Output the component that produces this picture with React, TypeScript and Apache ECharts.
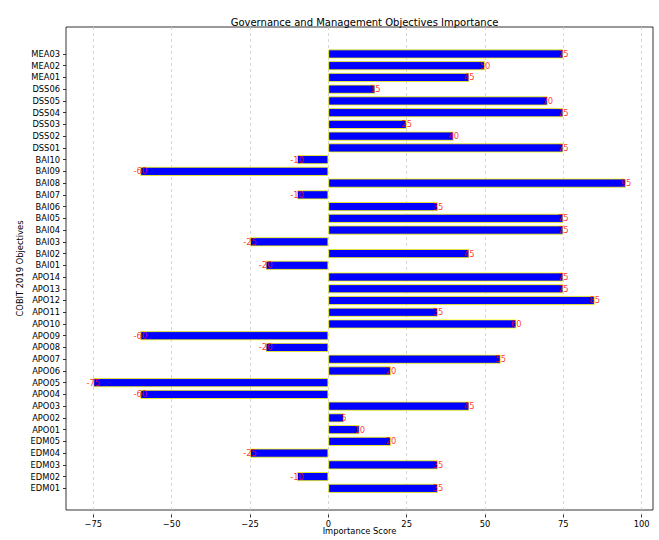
import React, { useEffect, useRef } from "react";
import * as echarts from "echarts";

const categories = [
  "EDM01", "EDM02", "EDM03", "EDM04", "EDM05",
  "APO01", "APO02", "APO03", "APO04", "APO05", "APO06", "APO07", "APO08", "APO09", "APO10", "APO11", "APO12", "APO13", "APO14",
  "BAI01", "BAI02", "BAI03", "BAI04", "BAI05", "BAI06", "BAI07", "BAI08", "BAI09", "BAI10",
  "DSS01", "DSS02", "DSS03", "DSS04", "DSS05", "DSS06",
  "MEA01", "MEA02", "MEA03",
];

const scores = [
  35, -10, 35, -25, 20,
  10, 5, 45, -60, -75, 20, 55, -20, -60, 60, 35, 85, 75, 75,
  -20, 45, -25, 75, 75, 35, -10, 95, -60, -10,
  75, 40, 25, 75, 70, 15,
  45, 50, 75,
];

const xTickMin = -75;
const xTickMax = 100;
const xTickStep = 25;

const FONT = "DejaVu Sans";

export default function App() {
  const ref = useRef<HTMLDivElement>(null);

  useEffect(() => {
    if (!ref.current) return;
    const chart = echarts.init(ref.current, undefined, { renderer: "svg" });

    // plot frame: x 66..653, y 27..514
    // data x range -83.7..103.6 ; ticks -75..100 at 93.3..641.7
    const frameLeft = 66;
    const tickLeft = 93.3;
    const frame = { left: frameLeft, right: 6, top: 27, bottom: 25.5 };
    const axisGrid = { left: tickLeft, right: 659 - 641.7, top: 27, bottom: 25.5 };
    const barGrid = { left: tickLeft, right: 659 - 641.7, top: 48.1, bottom: 45.8 };

    chart.setOption({
      animation: false,
      backgroundColor: "#ffffff",
      textStyle: { fontFamily: FONT },
      title: {
        text: "Governance and Management Objectives Importance",
        left: 359.5,
        textAlign: "center",
        top: 12,
        textStyle: { fontFamily: FONT, fontSize: 10, fontWeight: "normal", color: "#000" },
      },
      grid: [
        { ...frame, show: true, borderColor: "#000", borderWidth: 0.8, backgroundColor: "transparent" },
        { ...axisGrid },
        { ...barGrid },
      ],
      xAxis: [
        {
          gridIndex: 0,
          type: "value",
          min: 0,
          max: 1,
          axisLine: { show: false },
          axisTick: { show: false },
          axisLabel: { show: false },
          splitLine: { show: false },
          name: "Importance Score",
          nameLocation: "middle",
          nameGap: 17,
          nameTextStyle: { fontFamily: FONT, fontSize: 8.33, color: "#000", verticalAlign: "top" },
        },
        {
          gridIndex: 1,
          type: "value",
          min: xTickMin,
          max: xTickMax,
          interval: xTickStep,
          axisLine: { show: false },
          axisTick: { show: true, length: 3, inside: false, lineStyle: { color: "#000", width: 0.8 } },
          axisLabel: {
            fontFamily: FONT,
            fontSize: 8.33,
            color: "#000",
            margin: 5,
            formatter: (v: number) => (v < 0 ? "\u2212" + Math.abs(v) : String(v)),
          },
          splitLine: { show: true, lineStyle: { color: "#cccccc", type: [3, 3], width: 0.8 } },
        },
        {
          gridIndex: 2,
          type: "value",
          min: xTickMin,
          max: xTickMax,
          show: false,
        },
      ],
      yAxis: [
        {
          gridIndex: 0,
          type: "value",
          min: 0,
          max: 1,
          axisLine: { show: false },
          axisTick: { show: false },
          axisLabel: { show: false },
          splitLine: { show: false },
          name: "COBIT 2019 Objectives",
          nameLocation: "middle",
          nameRotate: 90,
          nameGap: 42,
          nameTextStyle: { fontFamily: FONT, fontSize: 8.33, color: "#000" },
        },
        {
          gridIndex: 1,
          type: "value",
          show: false,
        },
        {
          gridIndex: 2,
          type: "category",
          data: categories,
          position: "left",
          offset: tickLeft - frameLeft,
          axisLine: { show: false, onZero: false },
          axisTick: { show: true, alignWithLabel: true, length: 3, lineStyle: { color: "#000", width: 0.8 } },
          axisLabel: { fontFamily: FONT, fontSize: 8.33, color: "#000", margin: 6, interval: 0 },
          splitLine: { show: false },
        },
      ],
      series: [
        {
          type: "bar",
          xAxisIndex: 2,
          yAxisIndex: 2,
          data: scores,
          barWidth: 9,
          z: 2,
          itemStyle: { color: "#0000ff", borderColor: "#ffff00", borderWidth: 0.8 },
        },
        {
          type: "scatter",
          xAxisIndex: 2,
          yAxisIndex: 2,
          data: scores.map((v, i) => [v, i]),
          symbol: "circle",
          symbolSize: 2,
          itemStyle: { color: "rgba(0,0,0,0)" },
          z: 20,
          label: {
            show: true,
            position: "inside",
            formatter: (p: any) => String(p.value[0]),
            color: "#ff0000",
            textBorderWidth: 0,
            textBorderColor: "transparent",
            fontFamily: FONT,
            fontSize: 8.33,
          },
        },
      ],
    });

    return () => chart.dispose();
  }, []);

  return (
    <div
      ref={ref}
      style={{ position: "absolute", left: 0, top: 0, width: 659, height: 540 }}
    />
  );
}
